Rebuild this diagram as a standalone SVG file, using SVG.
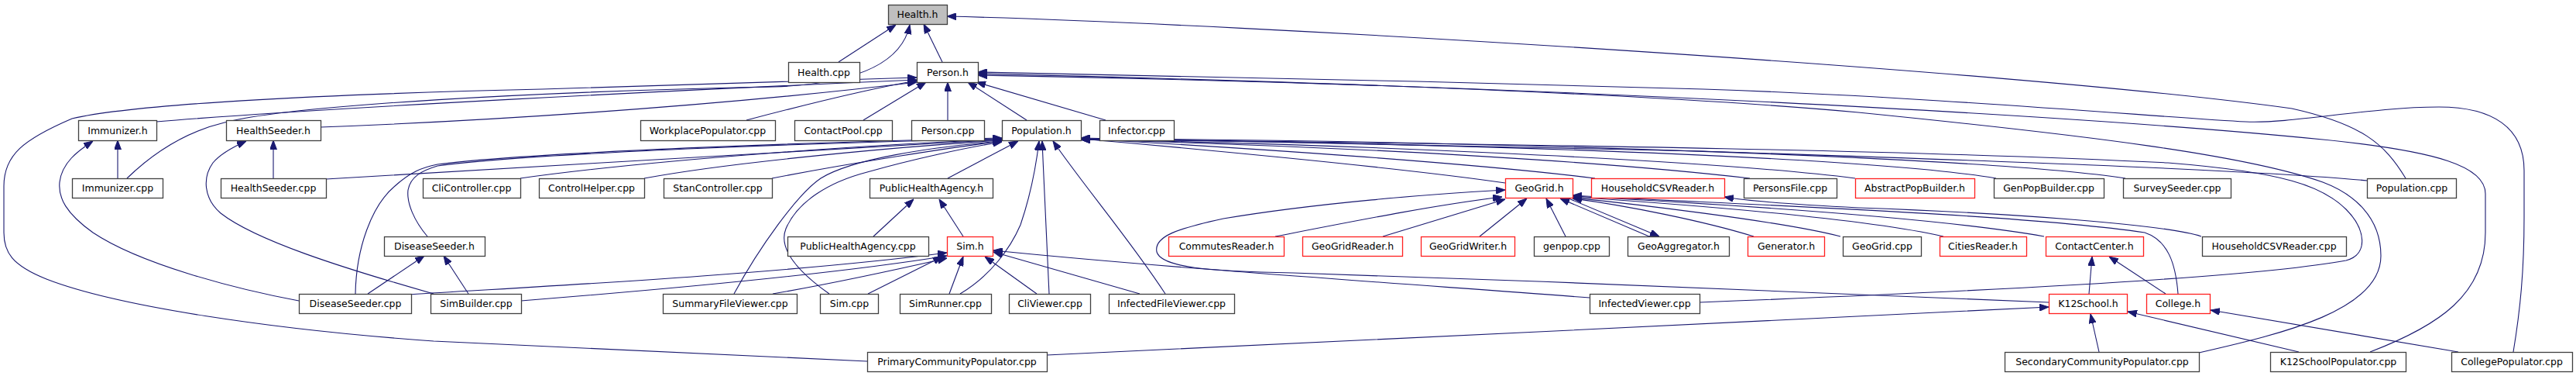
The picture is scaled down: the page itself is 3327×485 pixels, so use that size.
<svg xmlns="http://www.w3.org/2000/svg" width="3327" height="485" viewBox="0 0 3327 485">
<style>
.n rect{fill:#ffffff;stroke:#404040;stroke-width:1.3}
.r rect{fill:#ffffff;stroke:#ff2020;stroke-width:1.3}
.g rect{fill:#bfbfbf;stroke:#404040;stroke-width:1.3}
text{font-family:"DejaVu Sans",Verdana,sans-serif;font-size:12.5px;fill:#000;text-anchor:middle}
.e path{fill:none;stroke:#191970;stroke-width:1.1;marker-end:url(#ah)}
</style>
<defs>
<marker id="ah" viewBox="0 0 12 9" markerWidth="12" markerHeight="9" refX="12" refY="4.5" orient="auto" markerUnits="userSpaceOnUse">
<path d="M0,0 L12,4.5 L0,9 z" fill="#191970" stroke="#191970"/>
</marker>
</defs>
<rect x="0" y="0" width="3327" height="485" fill="#ffffff"/>
<g id="edges" class="e">
<path d="M1083,80 L1157,32"/>
<path d="M1217,80 L1193,31"/>
<path d="M164,230 C200,195 240,170 290,158 C380,135 700,118 1000,112 C1110,108 1165,80 1175,32"/>
<path d="M1120,466 C900,455 700,445 560,440 C350,425 150,395 60,360 C15,342 5,325 5,300 L5,240 C5,200 30,180 93,153 C170,135 400,122 700,115 C900,110 1100,103 1184,100"/>
<path d="M202,157 C400,140 900,115 1184,103"/>
<path d="M414,164 C600,157 900,140 1184,106"/>
<path d="M964,155 C1040,135 1120,115 1184,104"/>
<path d="M1115,155 L1196,106"/>
<path d="M1224,155 L1224,106"/>
<path d="M1326,155 L1250,106"/>
<path d="M1428,155 L1261,106"/>
<path d="M2840,455 C2950,430 3075,400 3075,330 C3075,280 3040,250 3000,235 C2900,200 2700,175 2400,145 C2100,118 1600,103 1263,95"/>
<path d="M3061,454 C3150,420 3210,380 3210,300 L3210,250 C3210,215 3150,195 3000,180 C2700,150 2000,110 1263,97"/>
<path d="M3246,454 C3255,400 3260,350 3260,280 L3260,220 C3260,165 3220,138 3150,138 C3060,138 2960,160 2900,157 C2800,152 2500,125 2200,115 C1900,106 1500,97 1263,93"/>
<path d="M3107,230 C3080,185 3050,160 2960,140 C2600,90 1600,30 1223,21"/>
<path d="M1944,236 C1800,215 1500,188 1396,179"/>
<path d="M2060,230 C1900,210 1600,190 1396,179"/>
<path d="M2260,230 C2000,200 1600,185 1396,180"/>
<path d="M2396,230 C2200,205 1700,185 1396,180"/>
<path d="M2578,230 C2400,200 1800,183 1396,180"/>
<path d="M2745,230 C2550,200 1800,180 1396,179"/>
<path d="M3058,233 C2900,218 2500,205 2200,195 C1900,187 1600,180 1396,178"/>
<path d="M2195,390 C2500,378 2900,360 3030,336 C3060,328 3055,295 3030,270 C3000,240 2950,222 2800,210 C2400,190 1800,185 1396,179"/>
<path d="M421,231 C700,215 1100,190 1294,180"/>
<path d="M672,230 C850,205 1150,185 1294,180"/>
<path d="M832,230 C950,208 1180,188 1294,181"/>
<path d="M997,230 C1100,210 1230,190 1294,182"/>
<path d="M552,305 C535,285 525,262 527,245 C530,228 545,220 565,214 C700,196 1100,183 1294,179"/>
<path d="M459,379 C460,320 480,265 510,240 C530,222 545,216 565,212 C700,195 1100,182 1294,178"/>
<path d="M525,380 C650,372 1000,355 1223,326"/>
<path d="M673,388 C900,370 1100,350 1223,330"/>
<path d="M998,379 C1080,365 1170,345 1223,333"/>
<path d="M948,379 C980,320 1030,250 1060,230 C1100,205 1200,190 1294,182"/>
<path d="M1071,379 C1030,350 1005,320 1015,295 C1030,260 1070,235 1120,222 C1180,205 1250,190 1294,183"/>
<path d="M1121,379 L1217,331"/>
<path d="M1226,379 L1244,331"/>
<path d="M1240,379 C1280,355 1305,320 1318,290 C1330,255 1338,215 1342,182"/>
<path d="M1339,379 L1272,331"/>
<path d="M1355,379 C1352,320 1349,250 1346,182"/>
<path d="M1472,379 L1283,325"/>
<path d="M1505,379 C1460,310 1400,240 1360,182"/>
<path d="M1224,230 L1315,182"/>
<path d="M2053,384 C1800,365 1500,345 1283,323"/>
<path d="M1128,305 L1180,257"/>
<path d="M1244,305 L1213,257"/>
<path d="M152,230 L152,181"/>
<path d="M386,388 C300,372 180,340 120,300 C85,275 75,255 77,235 C80,210 100,195 120,182"/>
<path d="M353,230 L353,181"/>
<path d="M560,379 C440,345 330,310 285,275 C262,255 262,228 275,210 C285,198 300,190 318,182"/>
<path d="M475,379 L548,330"/>
<path d="M605,379 L573,330"/>
<path d="M2698,379 L2702,331"/>
<path d="M2797,379 L2724,331"/>
<path d="M2711,454 L2700,405"/>
<path d="M2969,454 L2748,402"/>
<path d="M3175,454 L2855,400"/>
<path d="M1352,458 C1700,440 2300,415 2646,396"/>
<path d="M2646,390 C2400,380 2000,362 1670,352 C1560,350 1500,345 1494,325 C1490,305 1520,295 1580,282 C1700,262 1850,250 1944,245"/>
<path d="M1647,305 C1750,285 1850,265 1940,254"/>
<path d="M1786,305 L1944,257"/>
<path d="M1911,305 L1972,256"/>
<path d="M2022,305 L1997,256"/>
<path d="M2130,305 L2015,256"/>
<path d="M2026,256 L2143,305"/>
<path d="M2265,305 C2200,285 2100,265 2031,256"/>
<path d="M2377,305 C2300,285 2100,262 2031,255"/>
<path d="M2510,305 C2400,280 2150,262 2031,254"/>
<path d="M2640,305 C2500,280 2200,262 2031,253"/>
<path d="M2813,379 C2810,340 2800,310 2770,300 C2600,275 2200,262 2031,252"/>
<path d="M2843,305 C2800,290 2600,275 2400,268 C2300,263 2250,258 2227,254"/>
</g>
<g id="health_h" class="g"><rect x="1147.5" y="6.5" width="76" height="25"/><text x="1185" y="23">Health.h</text></g>
<g id="health_cpp" class="n"><rect x="1018.5" y="80.5" width="92" height="26"/><text x="1064" y="97.5">Health.cpp</text></g>
<g id="person_h" class="n"><rect x="1184.5" y="80.5" width="79" height="26"/><text x="1224" y="97.5">Person.h</text></g>
<g id="immunizer_h" class="n"><rect x="101.5" y="155.5" width="101" height="26"/><text x="152" y="172.5">Immunizer.h</text></g>
<g id="healthseeder_h" class="n"><rect x="292.5" y="155.5" width="122" height="26"/><text x="353" y="172.5">HealthSeeder.h</text></g>
<g id="workplacepopulator_cpp" class="n"><rect x="827.5" y="155.5" width="174" height="26"/><text x="914" y="172.5">WorkplacePopulator.cpp</text></g>
<g id="contactpool_cpp" class="n"><rect x="1026.5" y="155.5" width="126" height="26"/><text x="1089" y="172.5">ContactPool.cpp</text></g>
<g id="person_cpp" class="n"><rect x="1177.5" y="155.5" width="94" height="26"/><text x="1224" y="172.5">Person.cpp</text></g>
<g id="population_h" class="n"><rect x="1294.5" y="155.5" width="102" height="26"/><text x="1345" y="172.5">Population.h</text></g>
<g id="infector_cpp" class="n"><rect x="1420.5" y="155.5" width="96" height="26"/><text x="1468" y="172.5">Infector.cpp</text></g>
<g id="immunizer_cpp" class="n"><rect x="93.5" y="230.5" width="117" height="25"/><text x="152" y="247">Immunizer.cpp</text></g>
<g id="healthseeder_cpp" class="n"><rect x="285.5" y="230.5" width="136" height="25"/><text x="353" y="247">HealthSeeder.cpp</text></g>
<g id="clicontroller_cpp" class="n"><rect x="546.5" y="230.5" width="126" height="25"/><text x="609" y="247">CliController.cpp</text></g>
<g id="controlhelper_cpp" class="n"><rect x="696.5" y="230.5" width="136" height="25"/><text x="764" y="247">ControlHelper.cpp</text></g>
<g id="stancontroller_cpp" class="n"><rect x="857.5" y="230.5" width="140" height="25"/><text x="927" y="247">StanController.cpp</text></g>
<g id="publichealthagency_h" class="n"><rect x="1123.5" y="230.5" width="159" height="25"/><text x="1203" y="247">PublicHealthAgency.h</text></g>
<g id="geogrid_h" class="r"><rect x="1944.5" y="230.5" width="87" height="25"/><text x="1988" y="247">GeoGrid.h</text></g>
<g id="householdcsvreader_h" class="r"><rect x="2055.5" y="230.5" width="172" height="25"/><text x="2141" y="247">HouseholdCSVReader.h</text></g>
<g id="personsfile_cpp" class="n"><rect x="2252.5" y="230.5" width="120" height="25"/><text x="2312" y="247">PersonsFile.cpp</text></g>
<g id="abstractpopbuilder_h" class="r"><rect x="2396.5" y="230.5" width="154" height="25"/><text x="2473" y="247">AbstractPopBuilder.h</text></g>
<g id="genpopbuilder_cpp" class="n"><rect x="2575.5" y="230.5" width="142" height="25"/><text x="2646" y="247">GenPopBuilder.cpp</text></g>
<g id="surveyseeder_cpp" class="n"><rect x="2742.5" y="230.5" width="139" height="25"/><text x="2812" y="247">SurveySeeder.cpp</text></g>
<g id="population_cpp" class="n"><rect x="3057.5" y="230.5" width="115" height="25"/><text x="3115" y="247">Population.cpp</text></g>
<g id="diseaseseeder_h" class="n"><rect x="496.5" y="305.5" width="130" height="25"/><text x="561" y="322">DiseaseSeeder.h</text></g>
<g id="publichealthagency_cpp" class="n"><rect x="1017.5" y="305.5" width="182" height="25"/><text x="1108" y="322">PublicHealthAgency.cpp</text></g>
<g id="sim_h" class="r"><rect x="1223.5" y="305.5" width="59" height="25"/><text x="1253" y="322">Sim.h</text></g>
<g id="commutesreader_h" class="r"><rect x="1509.5" y="305.5" width="149" height="25"/><text x="1584" y="322">CommutesReader.h</text></g>
<g id="geogridreader_h" class="r"><rect x="1682.5" y="305.5" width="129" height="25"/><text x="1747" y="322">GeoGridReader.h</text></g>
<g id="geogridwriter_h" class="r"><rect x="1835.5" y="305.5" width="121" height="25"/><text x="1896" y="322">GeoGridWriter.h</text></g>
<g id="genpop_cpp" class="n"><rect x="1981.5" y="305.5" width="97" height="25"/><text x="2030" y="322">genpop.cpp</text></g>
<g id="geoaggregator_h" class="n"><rect x="2102.5" y="305.5" width="131" height="25"/><text x="2168" y="322">GeoAggregator.h</text></g>
<g id="generator_h" class="r"><rect x="2257.5" y="305.5" width="99" height="25"/><text x="2307" y="322">Generator.h</text></g>
<g id="geogrid_cpp" class="n"><rect x="2380.5" y="305.5" width="101" height="25"/><text x="2431" y="322">GeoGrid.cpp</text></g>
<g id="citiesreader_h" class="r"><rect x="2505.5" y="305.5" width="112" height="25"/><text x="2561" y="322">CitiesReader.h</text></g>
<g id="contactcenter_h" class="r"><rect x="2642.5" y="305.5" width="126" height="25"/><text x="2705" y="322">ContactCenter.h</text></g>
<g id="householdcsvreader_cpp" class="n"><rect x="2844.5" y="305.5" width="186" height="25"/><text x="2937" y="322">HouseholdCSVReader.cpp</text></g>
<g id="diseaseseeder_cpp" class="n"><rect x="386.5" y="379.5" width="145" height="25"/><text x="459" y="396">DiseaseSeeder.cpp</text></g>
<g id="simbuilder_cpp" class="n"><rect x="556.5" y="379.5" width="117" height="25"/><text x="615" y="396">SimBuilder.cpp</text></g>
<g id="summaryfileviewer_cpp" class="n"><rect x="856.5" y="379.5" width="173" height="25"/><text x="943" y="396">SummaryFileViewer.cpp</text></g>
<g id="sim_cpp" class="n"><rect x="1059.5" y="379.5" width="75" height="25"/><text x="1097" y="396">Sim.cpp</text></g>
<g id="simrunner_cpp" class="n"><rect x="1162.5" y="379.5" width="118" height="25"/><text x="1221" y="396">SimRunner.cpp</text></g>
<g id="cliviewer_cpp" class="n"><rect x="1303.5" y="379.5" width="105" height="25"/><text x="1356" y="396">CliViewer.cpp</text></g>
<g id="infectedfileviewer_cpp" class="n"><rect x="1432.5" y="379.5" width="162" height="25"/><text x="1513" y="396">InfectedFileViewer.cpp</text></g>
<g id="infectedviewer_cpp" class="n"><rect x="2053.5" y="379.5" width="142" height="25"/><text x="2124" y="396">InfectedViewer.cpp</text></g>
<g id="k12school_h" class="r"><rect x="2646.5" y="379.5" width="101" height="25"/><text x="2697" y="396">K12School.h</text></g>
<g id="college_h" class="r"><rect x="2772.5" y="379.5" width="82" height="25"/><text x="2813" y="396">College.h</text></g>
<g id="primarycommunitypopulator_cpp" class="n"><rect x="1120.5" y="454.5" width="232" height="25"/><text x="1236" y="471">PrimaryCommunityPopulator.cpp</text></g>
<g id="secondarycommunitypopulator_cpp" class="n"><rect x="2589.5" y="454.5" width="251" height="25"/><text x="2715" y="471">SecondaryCommunityPopulator.cpp</text></g>
<g id="k12schoolpopulator_cpp" class="n"><rect x="2932.5" y="454.5" width="175" height="25"/><text x="3020" y="471">K12SchoolPopulator.cpp</text></g>
<g id="collegepopulator_cpp" class="n"><rect x="3166.5" y="454.5" width="156" height="25"/><text x="3244" y="471">CollegePopulator.cpp</text></g>
</svg>
